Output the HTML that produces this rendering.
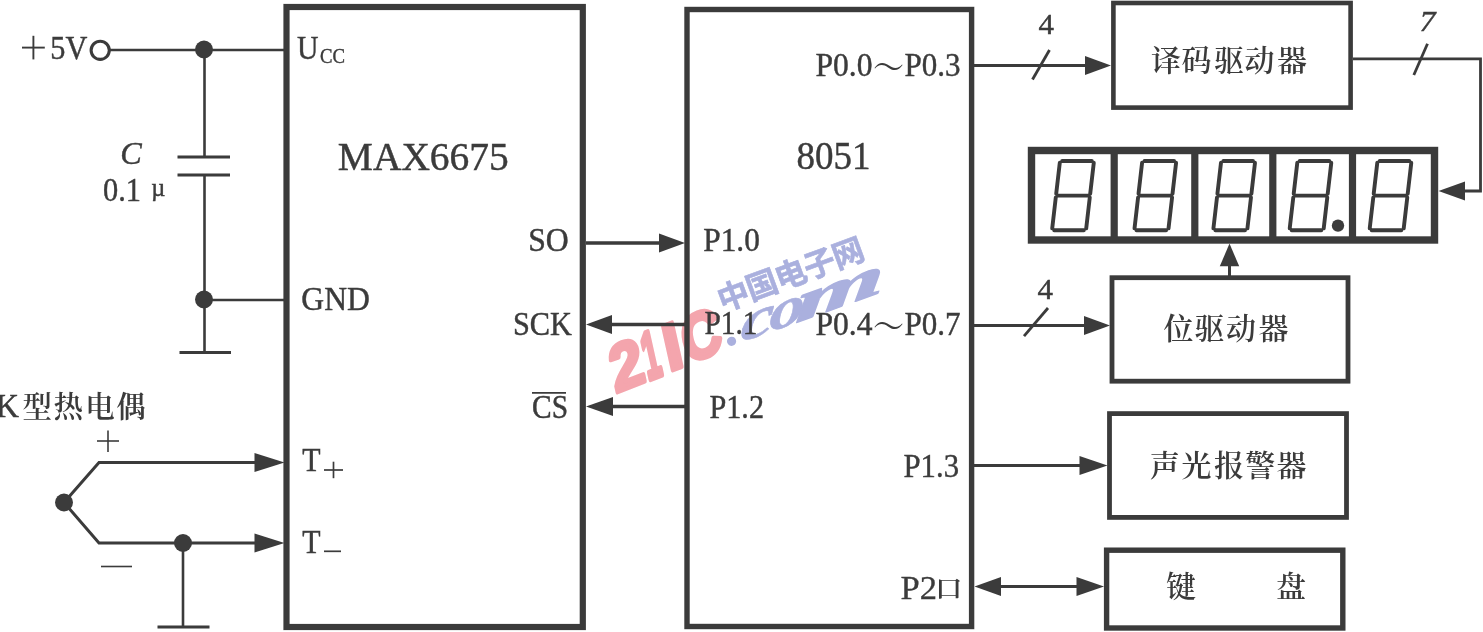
<!DOCTYPE html>
<html><head><meta charset="utf-8"><title>MAX6675 + 8051</title>
<style>
html,body{margin:0;padding:0;background:#fff;}
body{width:1483px;height:632px;overflow:hidden;font-family:"Liberation Serif",serif;}
svg{display:block;}
</style></head><body>
<svg width="1483" height="632" viewBox="0 0 1483 632">
<defs><filter id="soft" x="0" y="0" width="1483" height="632" filterUnits="userSpaceOnUse"><feGaussianBlur stdDeviation="0.45"/></filter><filter id="soft2" x="560" y="200" width="360" height="240" filterUnits="userSpaceOnUse"><feGaussianBlur stdDeviation="0.6"/></filter></defs>
<rect width="1483" height="632" fill="#ffffff"/>
<g id="wm" filter="url(#soft2)">
<g transform="translate(616.6,394.8) rotate(-21.5) skewX(-9)" font-family="'Liberation Sans', sans-serif" font-weight="bold" fill="#f4a5ad" stroke="#f4a5ad" stroke-linejoin="round">
<text transform="translate(-0.62,-2.0) scale(0.9507,1)" x="0" y="0" font-size="64.45" stroke-width="4.1">2</text>
<text transform="translate(34.1,-2.0) scale(0.46,1)" x="0" y="0" font-size="65.4" stroke-width="5.5">1</text>
<text transform="translate(56.59,-2.0) scale(1.008,1)" x="0" y="0" font-size="65.4" stroke-width="4">I</text>
<text transform="translate(76.21,-2.62) scale(0.8785,1)" x="0" y="0" font-size="63.55" stroke-width="4.26">C</text>
</g>
<g transform="translate(733,295) rotate(-20.3)">
<text x="-15.75 14.85 45.45 76.05 106.65" y="11.97" font-family="'Liberation Sans', 'Noto Sans CJK SC', sans-serif" font-weight="bold" font-size="31.5" fill="#aab0de" stroke="#aab0de" stroke-width="0.6">中国电子网</text>
</g>
<g transform="translate(727,347.5) rotate(-19.8)">
<circle cx="6.4" cy="-4.3" r="4.6" fill="#aab0de"/>
<g transform="skewX(-22.5)" font-family="'Liberation Serif', serif" font-weight="bold" font-style="italic" font-size="51.4" fill="#aab0de" stroke="#aab0de" stroke-linejoin="round">
<text transform="translate(14.13,0) scale(1.559,1)" x="0" y="0" stroke-width="0.47">c</text>
<text transform="translate(44.64,0) scale(1.4486,1)" x="0" y="0" stroke-width="0.49">o</text>
<text transform="translate(72.65,0) scale(2.343,1)" x="0" y="0" stroke-width="1.3">m</text>
</g>
</g>
</g>
<g filter="url(#soft)">
<rect x="286.5" y="7" width="296.3" height="620" fill="none" stroke="#3b3b3b" stroke-width="6.2"/>
<rect x="687" y="9.5" width="284.6" height="617.0" fill="none" stroke="#3b3b3b" stroke-width="5.4"/>
<rect x="1113.4" y="3.0" width="237.2" height="104.6" fill="none" stroke="#3b3b3b" stroke-width="4.6"/>
<rect x="1112" y="277.7" width="236" height="103.5" fill="none" stroke="#3b3b3b" stroke-width="4.8"/>
<rect x="1109.5" y="413.6" width="237.0" height="103.8" fill="none" stroke="#3b3b3b" stroke-width="4.8"/>
<rect x="1106.6" y="550.2" width="236.2" height="77.8" fill="none" stroke="#3b3b3b" stroke-width="5.4"/>
<rect x="1031.5" y="150.5" width="403" height="89.5" fill="none" stroke="#3b3b3b" stroke-width="7.4"/>
<line x1="1114.2" y1="150" x2="1114.2" y2="240" stroke="#3b3b3b" stroke-width="7.2" />
<line x1="1194.8" y1="150" x2="1194.8" y2="240" stroke="#3b3b3b" stroke-width="7.2" />
<line x1="1272.8" y1="150" x2="1272.8" y2="240" stroke="#3b3b3b" stroke-width="7.2" />
<line x1="1352.5" y1="150" x2="1352.5" y2="240" stroke="#3b3b3b" stroke-width="7.2" />
<path d="M1062.2,161.0 L1091.8,161.0 M1057.6,195.6 L1088.4,195.6 M1054.2,230.2 L1083.8,230.2 M1059.79,162.79 L1056.21,193.81 M1055.79,197.39 L1052.21,228.41 M1093.79,162.79 L1090.21,193.81 M1089.79,197.39 L1086.21,228.41" fill="none" stroke="#3b3b3b" stroke-width="3.9" stroke-linecap="round"/>
<path d="M1144.5,161.0 L1174.1,161.0 M1139.9,195.6 L1170.7,195.6 M1136.5,230.2 L1166.1,230.2 M1142.09,162.79 L1138.51,193.81 M1138.09,197.39 L1134.51,228.41 M1176.09,162.79 L1172.51,193.81 M1172.09,197.39 L1168.51,228.41" fill="none" stroke="#3b3b3b" stroke-width="3.9" stroke-linecap="round"/>
<path d="M1223.4,161.0 L1253.0,161.0 M1218.8,195.6 L1249.6,195.6 M1215.4,230.2 L1245.0,230.2 M1220.99,162.79 L1217.41,193.81 M1216.99,197.39 L1213.41,228.41 M1254.99,162.79 L1251.41,193.81 M1250.99,197.39 L1247.41,228.41" fill="none" stroke="#3b3b3b" stroke-width="3.9" stroke-linecap="round"/>
<path d="M1299.7,161.0 L1329.3,161.0 M1295.1,195.6 L1325.9,195.6 M1291.7,230.2 L1321.3,230.2 M1297.29,162.79 L1293.71,193.81 M1293.29,197.39 L1289.71,228.41 M1331.29,162.79 L1327.71,193.81 M1327.29,197.39 L1323.71,228.41" fill="none" stroke="#3b3b3b" stroke-width="3.9" stroke-linecap="round"/>
<path d="M1379.7,161.0 L1409.3,161.0 M1375.1,195.6 L1405.9,195.6 M1371.7,230.2 L1401.3,230.2 M1377.29,162.79 L1373.71,193.81 M1373.29,197.39 L1369.71,228.41 M1411.29,162.79 L1407.71,193.81 M1407.29,197.39 L1403.71,228.41" fill="none" stroke="#3b3b3b" stroke-width="3.9" stroke-linecap="round"/>
<circle cx="1338" cy="225.6" r="6.2" fill="#3b3b3b"/>
<circle cx="100.2" cy="50.3" r="9.1" fill="none" stroke="#3b3b3b" stroke-width="3.1"/>
<line x1="109" y1="50" x2="284" y2="50" stroke="#3b3b3b" stroke-width="2.6" />
<circle cx="204" cy="49.5" r="9" fill="#3b3b3b"/>
<line x1="204.5" y1="50" x2="204.5" y2="157" stroke="#3b3b3b" stroke-width="2.6" />
<line x1="177.5" y1="157" x2="230" y2="157" stroke="#3b3b3b" stroke-width="3" />
<line x1="177.5" y1="175" x2="230" y2="175" stroke="#3b3b3b" stroke-width="3" />
<line x1="204.5" y1="175" x2="204.5" y2="352.5" stroke="#3b3b3b" stroke-width="2.6" />
<line x1="179.5" y1="352.5" x2="231" y2="352.5" stroke="#3b3b3b" stroke-width="3" />
<circle cx="204" cy="299.5" r="9" fill="#3b3b3b"/>
<line x1="204" y1="300" x2="284" y2="300" stroke="#3b3b3b" stroke-width="2.6" />
<circle cx="64" cy="502.5" r="9" fill="#3b3b3b"/>
<polyline points="64,502.5 99,462.5 258,462.5" fill="none" stroke="#3b3b3b" stroke-width="3"/>
<polygon points="284.5,462.5 254.5,472.0 254.5,453.0" fill="#3b3b3b"/>
<polyline points="64,502.5 99,543 258,543" fill="none" stroke="#3b3b3b" stroke-width="3"/>
<polygon points="284.5,543 254.5,552.5 254.5,533.5" fill="#3b3b3b"/>
<circle cx="183" cy="543" r="9" fill="#3b3b3b"/>
<line x1="183" y1="543" x2="183" y2="627" stroke="#3b3b3b" stroke-width="2.6" />
<line x1="157.5" y1="627" x2="209.5" y2="627" stroke="#3b3b3b" stroke-width="3" />
<line x1="97" y1="441" x2="119" y2="441" stroke="#3b3b3b" stroke-width="1.6" />
<line x1="108" y1="430.5" x2="108" y2="452" stroke="#3b3b3b" stroke-width="1.6" />
<line x1="101" y1="566.5" x2="132" y2="566.5" stroke="#3b3b3b" stroke-width="1.6" />
<line x1="22" y1="47.6" x2="44.8" y2="47.6" stroke="#3b3b3b" stroke-width="1.9" />
<line x1="33.4" y1="35.8" x2="33.4" y2="59.4" stroke="#3b3b3b" stroke-width="1.9" />
<line x1="586" y1="243" x2="662" y2="243" stroke="#3b3b3b" stroke-width="3.6" />
<polygon points="685,243 659.0,252.5 659.0,233.5" fill="#3b3b3b"/>
<line x1="610" y1="324.5" x2="686" y2="324.5" stroke="#3b3b3b" stroke-width="3.6" />
<polygon points="586,324.5 612.0,315.0 612.0,334.0" fill="#3b3b3b"/>
<line x1="612" y1="406.5" x2="686" y2="406.5" stroke="#3b3b3b" stroke-width="3.6" />
<polygon points="586,406.5 613.0,397.0 613.0,416.0" fill="#3b3b3b"/>
<line x1="974" y1="65.5" x2="1088" y2="65.5" stroke="#3b3b3b" stroke-width="2.8" />
<polygon points="1111,65.5 1085.0,75.0 1085.0,56.0" fill="#3b3b3b"/>
<line x1="1032.5" y1="79.5" x2="1049.5" y2="50" stroke="#3b3b3b" stroke-width="2.8" />
<line x1="974" y1="325.5" x2="1086" y2="325.5" stroke="#3b3b3b" stroke-width="2.8" />
<polygon points="1110,325.5 1084.0,335.0 1084.0,316.0" fill="#3b3b3b"/>
<line x1="1024" y1="336.2" x2="1048" y2="308" stroke="#3b3b3b" stroke-width="2.8" />
<line x1="974" y1="465.5" x2="1082" y2="465.5" stroke="#3b3b3b" stroke-width="2.8" />
<polygon points="1107.5,465.5 1079.5,475.0 1079.5,456.0" fill="#3b3b3b"/>
<line x1="999" y1="586.5" x2="1078" y2="586.5" stroke="#3b3b3b" stroke-width="2.8" />
<polygon points="974.5,586.5 1001.0,577.0 1001.0,596.0" fill="#3b3b3b"/>
<polygon points="1104,586.5 1076.5,596.0 1076.5,577.0" fill="#3b3b3b"/>
<polyline points="1353,58.8 1480.5,58.8 1480.5,191 1462,191" fill="none" stroke="#3b3b3b" stroke-width="2.8"/>
<polygon points="1438.5,191 1465.0,181.5 1465.0,200.5" fill="#3b3b3b"/>
<line x1="1413.8" y1="75" x2="1427.5" y2="43.8" stroke="#3b3b3b" stroke-width="2.8" />
<line x1="1229.5" y1="264" x2="1229.5" y2="277" stroke="#3b3b3b" stroke-width="3" />
<polygon points="1229.5,243.6 1239.2,266.3 1219.8,266.3" fill="#3b3b3b"/>
<text x="50.3" y="59.2" font-family="Liberation Serif" font-size="33" fill="#3b3b3b" stroke="#3b3b3b" stroke-width="0.45" text-anchor="start" textLength="37" lengthAdjust="spacingAndGlyphs"  >5V</text>
<text x="120.3" y="164.3" font-family="Liberation Serif" font-size="32.5" fill="#3b3b3b" stroke="#3b3b3b" stroke-width="0.45" text-anchor="start" textLength="21.5" lengthAdjust="spacingAndGlyphs" font-style="italic" >C</text>
<text x="103" y="201.3" font-family="Liberation Serif" font-size="33" fill="#3b3b3b" stroke="#3b3b3b" stroke-width="0.45" text-anchor="start" textLength="38" lengthAdjust="spacingAndGlyphs"  >0.1</text>
<text x="151.3" y="196" font-family="Liberation Serif" font-size="25.5" fill="#3b3b3b" stroke="#3b3b3b" stroke-width="0.45" text-anchor="start" textLength="14" lengthAdjust="spacingAndGlyphs"  >µ</text>
<text x="297" y="58.8" font-family="Liberation Serif" font-size="33" fill="#3b3b3b" stroke="#3b3b3b" stroke-width="0.45" text-anchor="start" textLength="21.5" lengthAdjust="spacingAndGlyphs"  >U</text>
<text x="320" y="62.7" font-family="Liberation Serif" font-size="22" fill="#3b3b3b" stroke="#3b3b3b" stroke-width="0.45" text-anchor="start" textLength="25" lengthAdjust="spacingAndGlyphs"  >CC</text>
<text x="301.3" y="310.3" font-family="Liberation Serif" font-size="33" fill="#3b3b3b" stroke="#3b3b3b" stroke-width="0.45" text-anchor="start" textLength="68.5" lengthAdjust="spacingAndGlyphs"  >GND</text>
<text x="302.3" y="471" font-family="Liberation Serif" font-size="33" fill="#3b3b3b" stroke="#3b3b3b" stroke-width="0.45" text-anchor="start" textLength="18.3" lengthAdjust="spacingAndGlyphs"  >T</text>
<line x1="324" y1="470" x2="343" y2="470" stroke="#3b3b3b" stroke-width="1.7" />
<line x1="333.5" y1="461.7" x2="333.5" y2="478.2" stroke="#3b3b3b" stroke-width="1.7" />
<text x="302.3" y="552.7" font-family="Liberation Serif" font-size="33" fill="#3b3b3b" stroke="#3b3b3b" stroke-width="0.45" text-anchor="start" textLength="18.3" lengthAdjust="spacingAndGlyphs"  >T</text>
<line x1="324" y1="551.3" x2="341" y2="551.3" stroke="#3b3b3b" stroke-width="1.7" />
<text x="337.8" y="169.8" font-family="Liberation Serif" font-size="40" fill="#3b3b3b" stroke="#3b3b3b" stroke-width="0.45" text-anchor="start" textLength="171" lengthAdjust="spacingAndGlyphs"  >MAX6675</text>
<text x="528.2" y="251.3" font-family="Liberation Serif" font-size="33" fill="#3b3b3b" stroke="#3b3b3b" stroke-width="0.45" text-anchor="start" textLength="40.5" lengthAdjust="spacingAndGlyphs"  >SO</text>
<text x="513" y="334.8" font-family="Liberation Serif" font-size="33" fill="#3b3b3b" stroke="#3b3b3b" stroke-width="0.45" text-anchor="start" textLength="59" lengthAdjust="spacingAndGlyphs"  >SCK</text>
<text x="532" y="418.2" font-family="Liberation Serif" font-size="33" fill="#3b3b3b" stroke="#3b3b3b" stroke-width="0.45" text-anchor="start" textLength="36" lengthAdjust="spacingAndGlyphs"  >CS</text>
<line x1="532" y1="392.8" x2="566" y2="392.8" stroke="#3b3b3b" stroke-width="1.8" />
<text x="703.3" y="250.8" font-family="Liberation Serif" font-size="33" fill="#3b3b3b" stroke="#3b3b3b" stroke-width="0.45" text-anchor="start" textLength="56.5" lengthAdjust="spacingAndGlyphs"  >P1.0</text>
<text x="704.5" y="334.2" font-family="Liberation Serif" font-size="33" fill="#3b3b3b" stroke="#3b3b3b" stroke-width="0.45" text-anchor="start" textLength="53" lengthAdjust="spacingAndGlyphs"  >P1.1</text>
<text x="709.5" y="417.6" font-family="Liberation Serif" font-size="33" fill="#3b3b3b" stroke="#3b3b3b" stroke-width="0.45" text-anchor="start" textLength="54.5" lengthAdjust="spacingAndGlyphs"  >P1.2</text>
<text x="796.5" y="168.8" font-family="Liberation Serif" font-size="39" fill="#3b3b3b" stroke="#3b3b3b" stroke-width="0.45" text-anchor="start" textLength="74" lengthAdjust="spacingAndGlyphs"  >8051</text>
<text x="815.5" y="76" font-family="Liberation Serif" font-size="33" fill="#3b3b3b" stroke="#3b3b3b" stroke-width="0.45" text-anchor="start" textLength="57" lengthAdjust="spacingAndGlyphs"  >P0.0</text>
<text x="904.5" y="76" font-family="Liberation Serif" font-size="33" fill="#3b3b3b" stroke="#3b3b3b" stroke-width="0.45" text-anchor="start" textLength="56" lengthAdjust="spacingAndGlyphs"  >P0.3</text>
<text x="815.5" y="335" font-family="Liberation Serif" font-size="33" fill="#3b3b3b" stroke="#3b3b3b" stroke-width="0.45" text-anchor="start" textLength="57" lengthAdjust="spacingAndGlyphs"  >P0.4</text>
<text x="904.5" y="335" font-family="Liberation Serif" font-size="33" fill="#3b3b3b" stroke="#3b3b3b" stroke-width="0.45" text-anchor="start" textLength="56" lengthAdjust="spacingAndGlyphs"  >P0.7</text>
<text transform="translate(872.98,80.99) scale(0.828,1)" x="0" y="0" font-family="'Liberation Serif', 'Noto Serif CJK SC', serif" font-size="37.5" fill="#3b3b3b">～</text>
<text transform="translate(872.98,339.99) scale(0.828,1)" x="0" y="0" font-family="'Liberation Serif', 'Noto Serif CJK SC', serif" font-size="37.5" fill="#3b3b3b">～</text>
<text x="903.5" y="477.2" font-family="Liberation Serif" font-size="33" fill="#3b3b3b" stroke="#3b3b3b" stroke-width="0.45" text-anchor="start" textLength="55.5" lengthAdjust="spacingAndGlyphs"  >P1.3</text>
<text x="900.5" y="598.6" font-family="Liberation Serif" font-size="33" fill="#3b3b3b" stroke="#3b3b3b" stroke-width="0.3" text-anchor="start" textLength="36.5" lengthAdjust="spacingAndGlyphs"  >P2</text>
<text transform="translate(934.99,596.86) scale(1.157,1)" x="0" y="0" font-family="'Liberation Serif', 'Noto Serif CJK SC', serif" font-weight="600" font-size="23.72" fill="#3b3b3b">口</text>
<text x="1038.5" y="34" font-family="Liberation Serif" font-size="30" fill="#3b3b3b" stroke="#3b3b3b" stroke-width="0.45" text-anchor="start" textLength="15.5" lengthAdjust="spacingAndGlyphs"  >4</text>
<text x="1037.5" y="299" font-family="Liberation Serif" font-size="30" fill="#3b3b3b" stroke="#3b3b3b" stroke-width="0.45" text-anchor="start" textLength="15.5" lengthAdjust="spacingAndGlyphs"  >4</text>
<text x="1419.5" y="30.5" font-family="Liberation Serif" font-size="30" fill="#3b3b3b" stroke="#3b3b3b" stroke-width="0.45" text-anchor="start" textLength="16" lengthAdjust="spacingAndGlyphs" font-style="italic" >7</text>
<text x="-4.6" y="417.4" font-family="Liberation Serif" font-size="33" fill="#3b3b3b" stroke="#3b3b3b" stroke-width="0.45" text-anchor="start" textLength="23.5" lengthAdjust="spacingAndGlyphs"  >K</text>
<text x="22.46 53.51 85.26 116.21" y="417.41" font-family="'Liberation Serif', 'Noto Serif CJK SC', serif" font-weight="600" font-size="29.5" fill="#3b3b3b">型热电偶</text>
<text x="1150.88 1181.38 1214.0 1244.62 1277.0" y="71.1" font-family="'Liberation Serif', 'Noto Serif CJK SC', serif" font-weight="600" font-size="30" fill="#3b3b3b">译码驱动器</text>
<text x="1163.45 1194.58 1225.95 1258.45" y="338.9" font-family="'Liberation Serif', 'Noto Serif CJK SC', serif" font-weight="600" font-size="30" fill="#3b3b3b">位驱动器</text>
<text x="1149.7 1181.58 1213.95 1245.2 1276.58" y="475.9" font-family="'Liberation Serif', 'Noto Serif CJK SC', serif" font-weight="600" font-size="30" fill="#3b3b3b">声光报警器</text>
<text x="1166.0" y="596.9" font-family="'Liberation Serif', 'Noto Serif CJK SC', serif" font-weight="600" font-size="30" fill="#3b3b3b">键</text>
<text x="1276.0" y="596.9" font-family="'Liberation Serif', 'Noto Serif CJK SC', serif" font-weight="600" font-size="30" fill="#3b3b3b">盘</text>
</g>
</svg>
</body></html>
